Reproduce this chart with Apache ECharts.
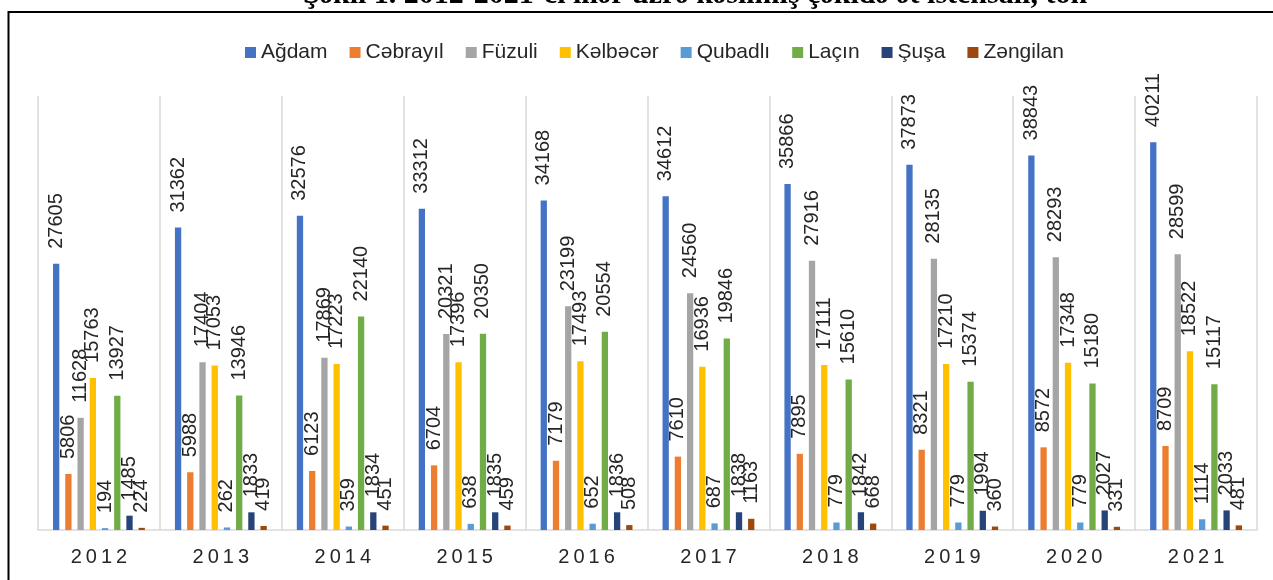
<!DOCTYPE html>
<html>
<head>
	<title>Ət istehsalı</title>
	<meta charset="utf-8">
	<style type="text/css">
		html, body { margin: 0; padding: 0; background-color: #fff; }
		#main { width: 1273px; height: 580px; }
	</style>
	<script src="https://cdn.jsdelivr.net/npm/echarts@6/dist/echarts.min.js"></script>
</head>
<body>
	<div id="main"></div>
	<script type="text/javascript">

	// illər
	var years = ['2012', '2013', '2014', '2015', '2016', '2017', '2018', '2019', '2020', '2021'];

	// rayonlar üzrə, ton
	var agdam    = [27605, 31362, 32576, 33312, 34168, 34612, 35866, 37873, 38843, 40211];
	var cebrayil = [5806, 5988, 6123, 6704, 7179, 7610, 7895, 8321, 8572, 8709];
	var fuzuli   = [11628, 17404, 17869, 20321, 23199, 24560, 27916, 28135, 28293, 28599];
	var kelbecer = [15763, 17053, 17223, 17396, 17493, 16936, 17111, 17210, 17348, 18522];
	var qubadli  = [194, 262, 359, 638, 652, 687, 779, 779, 779, 1114];
	var lacin    = [13927, 13946, 22140, 20350, 20554, 19846, 15610, 15374, 15180, 15117];
	var susa     = [1485, 1833, 1834, 1835, 1836, 1838, 1842, 1994, 2027, 2033];
	var zengilan = [224, 419, 451, 459, 508, 1163, 668, 360, 331, 481];

	var names  = ['Ağdam', 'Cəbrayıl', 'Füzuli', 'Kəlbəcər', 'Qubadlı', 'Laçın', 'Şuşa', 'Zəngilan'];
	var values = [agdam, cebrayil, fuzuli, kelbecer, qubadli, lacin, susa, zengilan];
	var colors = ['#4472C4', '#ED7D31', '#A5A5A5', '#FFC000', '#5B9BD5', '#70AD47', '#264478', '#9E480E'];

	var titleText = 'Şəkil 1. 2012-2021-ci illər üzrə kəsilmiş çəkidə ət istehsalı, ton';

	var series = [];
	for (var i = 0; i < names.length; i++) {
		series.push({
			name: names[i],
			type: 'bar',
			data: values[i],
			barWidth: 6.3,
			barGap: '94%',
			itemStyle: { color: colors[i] },
			label: {
				show: true,
				position: 'top',
				rotate: 90,
				align: 'left',
				verticalAlign: 'middle',
				distance: 15,
				fontFamily: 'Liberation Sans',
				fontSize: 20,
				color: '#262626'
			}
		});
	}

	var myChart = echarts.init(document.getElementById('main'));
	myChart.setOption({
		animation: false,
		color: colors,
		legend: {
			left: 240,
			top: 37,
			itemWidth: 11,
			itemHeight: 11,
			itemGap: 22,
			icon: 'rect',
			textStyle: { fontFamily: 'Liberation Sans', fontSize: 21, color: '#262626' },
			data: names
		},
		grid: { left: 38, right: 16, top: 96, bottom: 50 },
		xAxis: {
			type: 'category',
			data: years,
			axisTick: { show: false },
			axisLine: { lineStyle: { color: '#d9d9d9', width: 1.5 } },
			splitLine: { show: true, lineStyle: { color: '#d9d9d9', width: 1.5 } },
			axisLabel: {
				margin: 17,
				fontFamily: 'Liberation Sans',
				fontSize: 20,
				color: '#262626',
				formatter: function (v) { return v.split('').join('\u2009'); }
			}
		},
		yAxis: {
			type: 'value',
			min: 0,
			max: 45000,
			show: false,
			splitLine: { show: false }
		},
		series: series,
		graphic: [
			{
				type: 'text',
				left: 303,
				top: -20,
				style: {
					text: titleText,
					font: 'bold 30px "Liberation Serif"',
					fill: '#000'
				}
			},
			{
				type: 'polyline',
				shape: { points: [[1280, 12], [8.5, 12], [8.5, 590]] },
				style: { stroke: '#000', lineWidth: 2, fill: null }
			}
		]
	});

	</script>
</body>
</html>
